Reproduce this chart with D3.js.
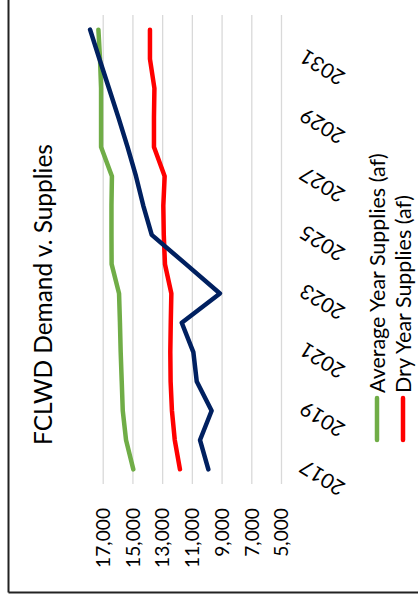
<!DOCTYPE html>
<html><head><meta charset="utf-8">
<script src="https://cdn.jsdelivr.net/npm/d3@7"></script>
<style>
body{margin:0;background:#fff}
svg{display:block}
text{font-family:Lato,"Open Sans",sans-serif;fill:#000}
</style>
</head><body>
<svg id="c" width="418" height="594"></svg>
<script>
// ---- data ----
const years = [2017,2018,2019,2020,2021,2022,2023,2024,2025,2026,2027,2028,2029,2030,2031,2032];
const yearLabels = [2017,2019,2021,2023,2025,2027,2029,2031];
const valueTicks = [17000,15000,13000,11000,9000,7000,5000];
const demand        = [9890,10450,9670,10670,10900,11680,9110,11400,13700,14270,14760,15330,15940,16580,17220,17850];
const averageSupply = [14940,15430,15650,15720,15790,15840,15900,16400,16410,16410,16380,17110,17110,17110,17180,17290];
const drySupply     = [11800,12150,12340,12430,12450,12420,12380,12810,12890,12920,12830,13550,13550,13520,13820,13820];
const seriesNames = ["Average Year Supplies (af)","Dry Year Supplies (af)"];
const title = "FCLWD Demand v. Supplies";

// ---- layout (chart is drawn rotated 90° counter-clockwise) ----
const svg = d3.select("#c");
const plotTop = 15, plotBottom = 484;
const x = d3.scaleLinear().domain([18000, 5000]).range([87.85, 281]);
const y = d3.scalePoint().domain(years).range([plotBottom, plotTop]).padding(0.5);

// frame (left & bottom edges visible)
svg.append("line").attr("x1",8.5).attr("x2",8.5).attr("y1",0).attr("y2",592.5).attr("stroke","#222").attr("stroke-width",2);
svg.append("line").attr("x1",8.5).attr("x2",418).attr("y1",592.5).attr("y2",592.5).attr("stroke","#222").attr("stroke-width",2);

// value axis with gridlines
const gx = svg.append("g").attr("transform",`translate(0,${plotBottom})`)
  .call(d3.axisBottom(x).tickValues(valueTicks).tickSize(-(plotBottom-plotTop)).tickFormat(d3.format(",")));
gx.select(".domain").remove();
gx.selectAll(".tick line").attr("stroke","#d9d9d9").attr("stroke-width",1.3);
gx.selectAll(".tick text")
  .attr("font-size",18).attr("fill","#000")
  .attr("transform","rotate(-90)").attr("x",-24).attr("y",0).attr("dy","0.35em")
  .attr("text-anchor","end");

// category axis labels
const gy = svg.append("g").attr("transform",`translate(281,0)`)
  .call(d3.axisRight(y).tickValues(yearLabels).tickSize(0).tickFormat(d3.format("d")));
gy.select(".domain").remove();
gy.selectAll(".tick text")
  .attr("font-size",18).attr("fill","#000")
  .attr("x",0).attr("y",0).attr("dy","0.35em").attr("text-anchor","end")
  .attr("transform","translate(21,-5) rotate(-148)");

// fit tick label font size
(function(){
  const t = gx.selectAll(".tick text").filter(d=>d===17000).node();
  const L = t.getComputedTextLength();
  const fs = 18*60/L;
  gx.selectAll(".tick text").attr("font-size",fs);
  gy.selectAll(".tick text").attr("font-size",fs*1.08);
})();

// lines
const line = d3.line().x(d=>x(d[1])).y(d=>y(d[0]));
const series = [
  {vals: averageSupply, color:"#70AD47"},
  {vals: drySupply, color:"#FF0000"},
  {vals: demand, color:"#002060"}
];
series.forEach(s=>{
  svg.append("path").datum(years.map((yr,i)=>[yr,s.vals[i]]))
    .attr("d",line).attr("fill","none").attr("stroke",s.color)
    .attr("stroke-width",4.5).attr("stroke-linejoin","round").attr("stroke-linecap","round");
});

// title
const tt = svg.append("text").attr("transform","translate(52,294.5) rotate(-90)")
  .attr("text-anchor","middle").attr("font-size",26).text(title);
tt.attr("font-size", 26*301/tt.node().getComputedTextLength());

// legend
const legX = [377, 403];
const legColors = ["#70AD47","#FF0000"];
let legFs = 18;
seriesNames.forEach((n,i)=>{
  svg.append("line").attr("x1",legX[i]).attr("x2",legX[i]).attr("y1",398).attr("y2",440)
    .attr("stroke",legColors[i]).attr("stroke-width",4.5).attr("stroke-linecap","round");
  const t = svg.append("text").attr("class","leg").attr("transform",`translate(${legX[i]},393) rotate(-90)`)
    .attr("dy","0.35em").attr("text-anchor","start").attr("font-size",18).text(n);
  if(i===0) legFs = 18*240/t.node().getComputedTextLength();
});
svg.selectAll("text.leg").attr("font-size",legFs);
</script>
</body></html>
